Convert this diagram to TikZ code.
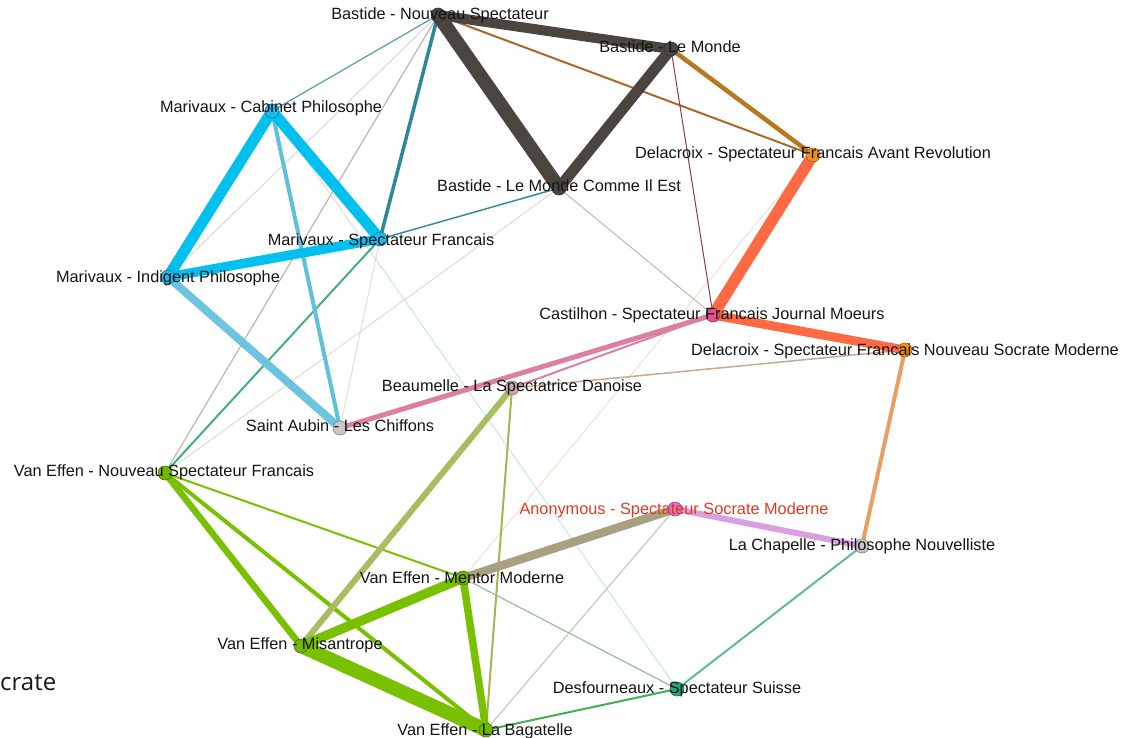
\documentclass[tikz,border=0pt]{standalone}
\usepackage{fontspec}
\setmainfont{Liberation Sans}
\newfontfamily\osans{Open Sans}
\pgfdeclarelayer{bg}
\pgfsetlayers{bg,main}
\definecolor{cDark}{HTML}{4B4540}
\definecolor{cCyan}{HTML}{00C0F0}
\definecolor{cGreen}{HTML}{78C000}
\definecolor{cCoral}{HTML}{FF6A45}
\definecolor{cPink}{HTML}{DC7FA0}
\definecolor{cRed}{HTML}{E03A20}
\definecolor{cTan}{HTML}{BCB8A6}
\definecolor{cFaintA}{HTML}{D4DAD7}
\definecolor{cFaintB}{HTML}{DCDCD4}
\definecolor{cFaintC}{HTML}{DCE0DC}
\definecolor{cFaintTeal}{HTML}{C4E6E2}
\definecolor{cFaintBeige}{HTML}{EAE2CC}
\definecolor{cPinkGrey}{HTML}{CCAEB6}
\definecolor{cGrey}{HTML}{C8C8C0}
\definecolor{cSage}{HTML}{90C0A0}
\definecolor{cSteel}{HTML}{5A9AAA}
\definecolor{cBrown}{HTML}{A86A28}
\definecolor{cMaroon}{HTML}{8A3858}
\definecolor{cBeige}{HTML}{C8A890}
\definecolor{cTealA}{HTML}{3A8A9A}
\definecolor{cTealB}{HTML}{2A8898}
\definecolor{cSea}{HTML}{40B080}
\definecolor{cOlive}{HTML}{A0B850}
\definecolor{cOliveB}{HTML}{A8BC60}
\definecolor{cMint}{HTML}{60B8A0}
\definecolor{cLeaf}{HTML}{40B050}
\definecolor{cAmber}{HTML}{B87820}
\definecolor{cPeach}{HTML}{E8A060}
\definecolor{cSky}{HTML}{60C0DC}
\definecolor{cSkyB}{HTML}{6CC4E0}
\definecolor{cLilac}{HTML}{D8A0E0}
\definecolor{cKhaki}{HTML}{A8A080}
\definecolor{nDark}{HTML}{4A4540}
\definecolor{nCyan}{HTML}{20B8E8}
\definecolor{nGreen}{HTML}{70B800}
\definecolor{nOrange}{HTML}{F0901A}
\definecolor{nPink}{HTML}{E8508A}
\definecolor{nMag}{HTML}{E070C8}
\definecolor{nGrey}{HTML}{C8C8C8}
\definecolor{nGreyPink}{HTML}{C8ABAB}
\definecolor{nTeal}{HTML}{20A880}
\begin{document}
\begin{tikzpicture}[x=1pt,y=-1pt,
  vert/.style={circle, minimum size=14pt, inner sep=0pt, draw=#1!65!black, line width=0.6pt, fill=#1},
  lbl/.style={font=\fontsize{16.3}{18}\selectfont, text=black!92, inner sep=0pt, anchor=base},
  ed/.style 2 args={line width=#1, draw=#2}]
\useasboundingbox (0,0) rectangle (1121,738);
% vertices
\node[vert=nDark] (bns) at (438,15) {};
\node[vert=nDark] (blm) at (671,49) {};
\node[vert=nOrange] (dar) at (813,155) {};
\node[vert=nDark] (bmc) at (559,188) {};
\node[vert=nCyan] (mcp) at (272,111) {};
\node[vert=nCyan] (msf) at (380,239) {};
\node[vert=nCyan] (mip) at (168,277) {};
\node[vert=nPink] (csj) at (713,315) {};
\node[vert=nOrange] (dns) at (905,350) {};
\node[vert=nGreyPink] (bsd) at (512,388) {};
\node[vert=nGrey] (sac) at (340,428) {};
\node[vert=nGreen] (vns) at (165,473) {};
\node[vert=nMag] (ass) at (675,509) {};
\node[vert=nGrey] (lcp) at (862,546) {};
\node[vert=nGreen] (vmm) at (463,578) {};
\node[vert=nGreen] (vmi) at (301,646) {};
\node[vert=nTeal] (dss) at (677,689) {};
\node[vert=nGreen] (vlb) at (486,730) {};
% edges
\begin{pgfonlayer}{bg}
\draw[ed={1}{cFaintA}] (bns.center) -- (mip.center);
\draw[ed={1.2}{cTan}] (bns.center) -- (vns.center);
\draw[ed={1}{cFaintB}] (bmc.center) -- (vns.center);
\draw[ed={1}{cFaintC}] (msf.center) -- (sac.center);
\draw[ed={1}{cFaintTeal}] (mcp.center) -- (dss.center);
\draw[ed={1}{cFaintBeige}] (dar.center) -- (vmm.center);
\draw[ed={1}{cPinkGrey}] (csj.center) -- (bmc.center);
\draw[ed={1.2}{cGrey}] (ass.center) -- (vlb.center);
\draw[ed={1.2}{cSage}] (vmm.center) -- (dss.center);
\draw[ed={1.2}{cSteel}] (bns.center) -- (mcp.center);
\draw[ed={2}{cBrown}] (bns.center) -- (dar.center);
\draw[ed={1}{cMaroon}] (blm.center) -- (csj.center);
\draw[ed={1.5}{cBeige}] (dns.center) -- (bsd.center);
\draw[ed={1.5}{cTealA}] (bmc.center) -- (msf.center);
\draw[ed={2}{cSea}] (msf.center) -- (vns.center);
\draw[ed={2}{cOlive}] (bsd.center) -- (vlb.center);
\draw[ed={2}{cMint}] (lcp.center) -- (dss.center);
\draw[ed={2}{cLeaf}] (dss.center) -- (vlb.center);
\draw[ed={2}{cGreen}] (vns.center) -- (vmm.center);
\draw[ed={2}{cPink}] (csj.center) -- (bsd.center);
\draw[ed={3.5}{cTealB}] (bns.center) -- (msf.center);
\draw[ed={4.5}{cAmber}] (blm.center) -- (dar.center);
\draw[ed={4}{cPeach}] (dns.center) -- (lcp.center);
\draw[ed={4}{cSky}] (mcp.center) -- (sac.center);
\draw[ed={4}{cGreen}] (vns.center) -- (vlb.center);
\draw[ed={5}{cPink}] (csj.center) -- (sac.center);
\draw[ed={6}{cOliveB}] (bsd.center) -- (vmi.center);
\draw[ed={6.5}{cGreen}] (vns.center) -- (vmi.center);
\draw[ed={6}{cLilac}] (ass.center) -- (lcp.center);
\draw[ed={7.5}{cGreen}] (vmm.center) -- (vlb.center);
\draw[ed={8}{cSkyB}] (mip.center) -- (sac.center);
\draw[ed={9}{cCoral}] (csj.center) -- (dns.center);
\draw[ed={8.5}{cKhaki}] (vmm.center) -- (ass.center);
\draw[ed={9.5}{cGreen}] (vmm.center) -- (vmi.center);
\draw[ed={9.5}{cCyan}] (mip.center) -- (msf.center);
\draw[ed={11}{cCyan}] (mcp.center) -- (mip.center);
\draw[ed={11}{cCyan}] (mcp.center) -- (msf.center);
\draw[ed={11.5}{cCoral}] (dar.center) -- (csj.center);
\draw[ed={10}{cDark}] (bns.center) -- (blm.center);
\draw[ed={11}{cDark}] (blm.center) -- (bmc.center);
\draw[ed={14}{cDark}] (bns.center) -- (bmc.center);
\draw[ed={14}{cGreen}] (vmi.center) -- (vlb.center);
\end{pgfonlayer}
% labels
\node[lbl] (bns-l) at (440,20) {Bastide - Nouveau Spectateur};
\node[lbl] (blm-l) at (670,53) {Bastide - Le Monde};
\node[lbl] (dar-l) at (813,159) {Delacroix - Spectateur Francais Avant Revolution};
\node[lbl] (bmc-l) at (559,192) {Bastide - Le Monde Comme Il Est};
\node[lbl] (mcp-l) at (271,113) {Marivaux - Cabinet Philosophe};
\node[lbl] (msf-l) at (381,245) {Marivaux - Spectateur Francais};
\node[lbl] (mip-l) at (168,282) {Marivaux - Indigent Philosophe};
\node[lbl] (csj-l) at (712,319) {Castilhon - Spectateur Francais Journal Moeurs};
\node[lbl] (dns-l) at (905,355) {Delacroix - Spectateur Francais Nouveau Socrate Moderne};
\node[lbl] (bsd-l) at (512,391) {Beaumelle - La Spectatrice Danoise};
\node[lbl] (sac-l) at (340,431) {Saint Aubin - Les Chiffons};
\node[lbl] (vns-l) at (164,476) {Van Effen - Nouveau Spectateur Francais};
\node[lbl, text=cRed] (ass-l) at (674,514) {Anonymous - Spectateur Socrate Moderne};
\node[lbl] (lcp-l) at (862,550) {La Chapelle - Philosophe Nouvelliste};
\node[lbl] (vmm-l) at (462,583) {Van Effen - Mentor Moderne};
\node[lbl] (vmi-l) at (300,649) {Van Effen - Misantrope};
\node[lbl] (dss-l) at (677,693) {Desfourneaux - Spectateur Suisse};
\node[lbl] (vlb-l) at (485,735) {Van Effen - La Bagatelle};
\node[font=\osans\fontsize{24}{28}\selectfont, anchor=base west, inner sep=0pt, text=black!90] (crate) at (0,690) {crate};
\end{tikzpicture}
\end{document}
